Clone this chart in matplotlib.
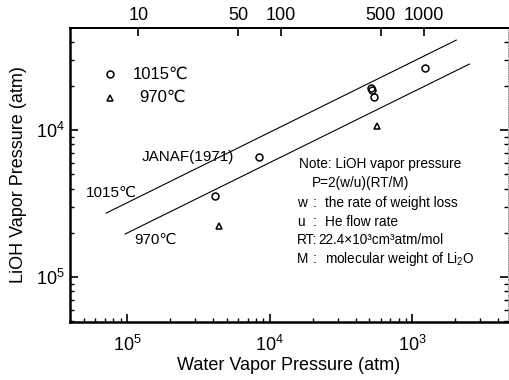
import numpy as np
import matplotlib
matplotlib.use("Agg")
import matplotlib.pyplot as plt
from matplotlib.ticker import FixedLocator, FixedFormatter, LogLocator, NullFormatter, NullLocator

plt.rcParams['font.family'] = ['Liberation Sans', 'DejaVu Sans']
plt.rcParams['mathtext.fontset'] = 'custom'
plt.rcParams['mathtext.rm'] = 'Liberation Sans'
plt.rcParams['mathtext.it'] = 'Liberation Sans'

# measured points (water vapor pressure, LiOH vapor pressure)
x_1015 = [4.12e-5, 8.38e-5, 5.10e-4, 5.20e-4, 5.42e-4, 1.23e-3]
y_1015 = [3.56e-5, 6.55e-5, 1.92e-4, 1.88e-4, 1.67e-4, 2.64e-4]
x_970 = [4.40e-5, 5.69e-4]
y_970 = [2.22e-5, 1.06e-4]

# JANAF(1971) lines, end points
janaf_x_1015 = [7.13e-6, 2.03e-3]
janaf_y_1015 = [2.72e-5, 4.09e-4]
janaf_x_970 = [9.68e-6, 2.51e-3]
janaf_y_970 = [1.96e-5, 2.81e-4]

# top axis (flow rate) scale factor
k_top = 10 ** -5.92
top_ticks = [10, 50, 100, 500, 1000]
top_labels = ['10', '50', '100', '500', '1000']

x_ticks = [1e-5, 1e-4, 1e-3]
x_labels = ['$10^5$', '$10^4$', '$10^3$']
y_ticks = [1e-5, 1e-4]
y_labels = ['$10^5$', '$10^4$']

fig = plt.figure(figsize=(5.09, 3.80), dpi=100)
ax = fig.add_axes([70 / 509, 1 - 322 / 380, 438 / 509, 294 / 380])
ax.set_xscale('log')
ax.set_yscale('log')
ax.set_xlim(10 ** -5.40, 10 ** -2.33)
ax.set_ylim(10 ** -5.306, 10 ** -3.306)

ax.plot(janaf_x_1015, janaf_y_1015, color='black', lw=0.8)
ax.plot(janaf_x_970, janaf_y_970, color='black', lw=0.8)
ax.plot(x_1015, y_1015, 'o', mfc='none', mec='black', ms=5, mew=1.1)
ax.plot(x_970, y_970, '^', mfc='none', mec='black', ms=5, mew=1.1)

# legend drawn by hand
ax.plot([10 ** -5.12], [10 ** -3.62], 'o', mfc='none', mec='black', ms=5, mew=1.1)
ax.plot([10 ** -5.12], [10 ** -3.78], '^', mfc='none', mec='black', ms=5, mew=1.1)
ax.text(10 ** -4.96, 10 ** -3.62, '1015℃', fontsize=12, va='center')
ax.text(10 ** -4.915, 10 ** -3.78, '970℃', fontsize=12, va='center')

ax.text(10 ** -4.895, 10 ** -4.184, 'JANAF(1971)', fontsize=11, va='center')
ax.text(10 ** -5.29, 10 ** -4.43, '1015℃', fontsize=11, va='center')
ax.text(10 ** -4.95, 10 ** -4.75, '970℃', fontsize=11, va='center')

fs_note = 9.8
ax.text(299 / 509, 1 - 164 / 380, 'Note: LiOH vapor pressure', fontsize=fs_note,
        va='center', transform=fig.transFigure)
ax.text(312 / 509, 1 - 183 / 380, 'P=2(w/u)(RT/M)', fontsize=fs_note,
        va='center', transform=fig.transFigure)
keys = ['w', 'u', 'RT:', 'M']
colon_x = [313, 313, None, 313]
desc_x = [325, 325, 318, 325]
descs = ['the rate of weight loss', 'He flow rate',
         '22.4×10³cm³atm/mol', 'molecular weight of Li$_2$O']
for i, (kk, d) in enumerate(zip(keys, descs)):
    py = 203 + i * 18.7
    ax.text(297 / 509, 1 - py / 380, kk, fontsize=fs_note, va='center', transform=fig.transFigure)
    if colon_x[i] is not None:
        ax.text(colon_x[i] / 509, 1 - py / 380, ':', fontsize=fs_note, va='center',
                transform=fig.transFigure)
    ax.text(desc_x[i] / 509, 1 - py / 380, d, fontsize=fs_note, va='center', transform=fig.transFigure)

ax.xaxis.set_major_locator(FixedLocator(x_ticks))
ax.xaxis.set_major_formatter(FixedFormatter(x_labels))
ax.xaxis.set_minor_locator(LogLocator(base=10, subs=np.arange(2, 10)))
ax.xaxis.set_minor_formatter(NullFormatter())
ax.yaxis.set_major_locator(FixedLocator(y_ticks))
ax.yaxis.set_major_formatter(FixedFormatter(y_labels))
ax.yaxis.set_minor_locator(LogLocator(base=10, subs=np.arange(2, 10)))
ax.yaxis.set_minor_formatter(NullFormatter())

ax.tick_params(which='both', direction='in', top=False, right=True, labelsize=13)
ax.tick_params(axis='x', which='major', length=6, width=1.2, pad=9)
ax.tick_params(axis='y', which='major', length=6, width=1.2, pad=4)
ax.tick_params(which='minor', length=3, width=1.0)

ax.spines['left'].set_linewidth(1.8)
ax.spines['bottom'].set_linewidth(1.8)
ax.spines['top'].set_linewidth(1.3)
ax.spines['right'].set_linewidth(0.6)
ax.spines['right'].set_linestyle(':')
ax.spines['right'].set_color('gray')

top = ax.secondary_xaxis('top', functions=(lambda x: x / k_top, lambda v: v * k_top))
top.xaxis.set_major_locator(FixedLocator(top_ticks))
top.xaxis.set_major_formatter(FixedFormatter(top_labels))
top.xaxis.set_minor_locator(NullLocator())
top.tick_params(direction='in', length=6, width=1.2, labelsize=13, pad=3)
top.spines['top'].set_linewidth(1.3)

ax.set_xlabel('Water Vapor Pressure (atm)', fontsize=13, labelpad=2)
ax.set_ylabel('LiOH Vapor Pressure (atm)', fontsize=13, labelpad=6)

fig.savefig('out.png', dpi=100)
